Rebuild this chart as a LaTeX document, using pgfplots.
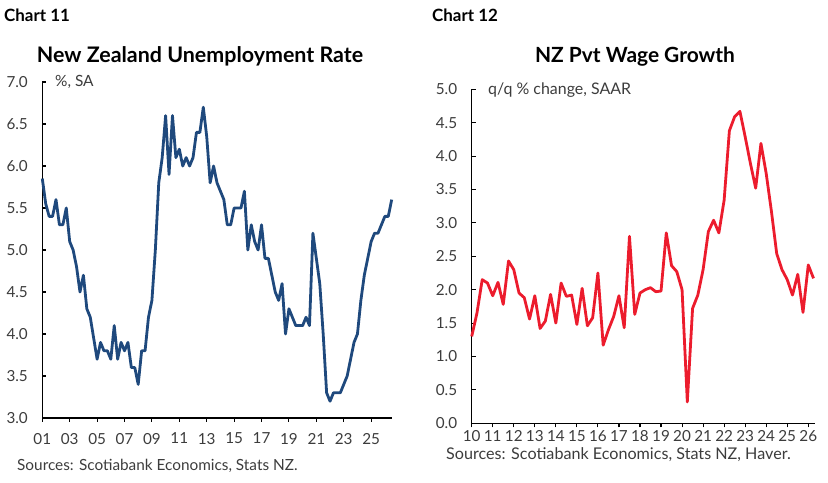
\documentclass[border=0pt]{standalone}
\usepackage{pgfplots}
\pgfplotsset{compat=1.18}
\usepackage{fontspec}
\setmainfont{Lato}

\definecolor{nzblue}{RGB}{31,73,125}
\definecolor{nzred}{RGB}{236,28,45}
\definecolor{labelgray}{RGB}{60,60,60}

\pgfplotsset{
  panel/.style={
    scale only axis,
    axis x line*=bottom,
    axis y line*=left,
    axis line style={-, line width=1.2bp, black},
    tick style={line width=1.1bp, black},
    major tick length=4bp,
    xtick align=outside,
    ytick align=inside,
    ticklabel style={font=\fontsize{15.3}{17}\selectfont, text=labelgray},
    /pgf/number format/assume math mode=true,
    yticklabel style={/pgf/number format/.cd, fixed, fixed zerofill, precision=1},
    clip=false,
  },
}

\begin{document}
\begin{tikzpicture}
\useasboundingbox (0bp,0bp) rectangle (828bp,483bp);

% left panel: unemployment rate, quarterly
\begin{axis}[panel,
  at={(42.3bp,65bp)}, anchor=south west,
  width=349.4bp, height=336bp,
  xmin=2001, xmax=2026.5,
  ymin=3, ymax=7,
  xtick={2001,2003,...,2025},
  xticklabels={01,03,05,07,09,11,13,15,17,19,21,23,25},
  ytick={3,3.5,...,7},
  xticklabel shift=7.5bp,
  yticklabel shift=11bp,
]
\addplot[nzblue, line width=2.8bp, line join=round, no marks] table {
2001.00 5.85
2001.25 5.55
2001.50 5.4
2001.75 5.4
2002.00 5.6
2002.25 5.3
2002.50 5.3
2002.75 5.5
2003.00 5.1
2003.25 5.0
2003.50 4.8
2003.75 4.5
2004.00 4.7
2004.25 4.3
2004.50 4.2
2004.75 3.95
2005.00 3.7
2005.25 3.9
2005.50 3.8
2005.75 3.8
2006.00 3.7
2006.25 4.1
2006.50 3.7
2006.75 3.9
2007.00 3.8
2007.25 3.9
2007.50 3.6
2007.75 3.6
2008.00 3.4
2008.25 3.8
2008.50 3.8
2008.75 4.2
2009.00 4.4
2009.25 5.0
2009.50 5.8
2009.75 6.1
2010.00 6.6
2010.25 5.9
2010.50 6.6
2010.75 6.1
2011.00 6.2
2011.25 6.0
2011.50 6.1
2011.75 6.0
2012.00 6.1
2012.25 6.4
2012.50 6.4
2012.75 6.7
2013.00 6.35
2013.25 5.8
2013.50 6.0
2013.75 5.8
2014.00 5.7
2014.25 5.6
2014.50 5.3
2014.75 5.3
2015.00 5.5
2015.25 5.5
2015.50 5.5
2015.75 5.7
2016.00 5.0
2016.25 5.3
2016.50 5.1
2016.75 5.0
2017.00 5.3
2017.25 4.9
2017.50 4.9
2017.75 4.7
2018.00 4.5
2018.25 4.4
2018.50 4.6
2018.75 4.0
2019.00 4.3
2019.25 4.2
2019.50 4.1
2019.75 4.1
2020.00 4.1
2020.25 4.2
2020.50 4.1
2020.75 5.2
2021.00 4.9
2021.25 4.6
2021.50 4.0
2021.75 3.3
2022.00 3.2
2022.25 3.3
2022.50 3.3
2022.75 3.3
2023.00 3.4
2023.25 3.5
2023.50 3.7
2023.75 3.9
2024.00 4.0
2024.25 4.4
2024.50 4.7
2024.75 4.9
2025.00 5.1
2025.25 5.2
2025.50 5.2
2025.75 5.3
2026.00 5.4
2026.25 5.4
2026.50 5.6
};
\end{axis}

% right panel: private wage growth, q/q saar
\begin{axis}[panel,
  at={(471.7bp,59.7bp)}, anchor=south west,
  width=343.3bp, height=334bp,
  xmin=2010, xmax=2026.32,
  ymin=0, ymax=5,
  xtick={2010,2011,...,2026},
  xticklabels={10,11,12,13,14,15,16,17,18,19,20,21,22,23,24,25,26},
  ytick={0,0.5,...,5},
  xticklabel shift=0bp,
  yticklabel shift=11bp,
]
\addplot[nzred, line width=2.8bp, line join=round, no marks] table {
2010.00 1.3
2010.25 1.65
2010.50 2.15
2010.75 2.1
2011.00 1.91
2011.25 2.11
2011.50 1.78
2011.75 2.43
2012.00 2.3
2012.25 1.95
2012.50 1.88
2012.75 1.56
2013.00 1.91
2013.25 1.42
2013.50 1.53
2013.75 1.93
2014.00 1.5
2014.25 2.1
2014.50 1.9
2014.75 1.92
2015.00 1.48
2015.25 2.02
2015.50 1.46
2015.75 1.58
2016.00 2.25
2016.25 1.17
2016.50 1.4
2016.75 1.6
2017.00 1.91
2017.25 1.43
2017.50 2.8
2017.75 1.63
2018.00 1.95
2018.25 2.0
2018.50 2.03
2018.75 1.97
2019.00 1.98
2019.25 2.85
2019.50 2.36
2019.75 2.27
2020.00 2.0
2020.25 0.32
2020.50 1.72
2020.75 1.92
2021.00 2.3
2021.25 2.87
2021.50 3.04
2021.75 2.85
2022.00 3.34
2022.25 4.38
2022.50 4.59
2022.75 4.67
2023.00 4.29
2023.25 3.89
2023.50 3.52
2023.75 4.19
2024.00 3.74
2024.25 3.17
2024.50 2.54
2024.75 2.3
2025.00 2.15
2025.25 1.92
2025.50 2.23
2025.75 1.66
2026.00 2.37
2026.25 2.17
};
\end{axis}

% titles, units and sources
\node[anchor=base west, inner sep=0, font=\bfseries\fontsize{17}{20}\selectfont] at (4bp,461.3bp) {Chart 11};
\node[anchor=base west, inner sep=0, font=\bfseries\fontsize{17}{20}\selectfont] at (432bp,461.3bp) {Chart 12};
\node[anchor=base, inner sep=0, font=\bfseries\fontsize{21.5}{24}\selectfont] at (200bp,420.7bp) {New Zealand Unemployment Rate};
\node[anchor=base, inner sep=0, font=\bfseries\fontsize{21}{24}\selectfont] at (635bp,420.7bp) {NZ Pvt Wage Growth};
\node[anchor=base west, inner sep=0, text=labelgray, font=\fontsize{15.5}{17}\selectfont] at (55bp,396.3bp) {\%, SA};
\node[anchor=base west, inner sep=0, text=labelgray, font=\fontsize{16}{18}\selectfont] at (488bp,388.7bp) {q/q \% change, SAAR};
\node[anchor=base west, inner sep=0, text=labelgray, font=\fontsize{15.4}{17}\selectfont] at (17bp,13bp) {Sources: Scotiabank Economics, Stats NZ.};
\node[anchor=base west, inner sep=0, text=labelgray, font=\fontsize{16.2}{18}\selectfont] at (446bp,23.7bp) {Sources: Scotiabank Economics, Stats NZ, Haver.};
\end{tikzpicture}
\end{document}
